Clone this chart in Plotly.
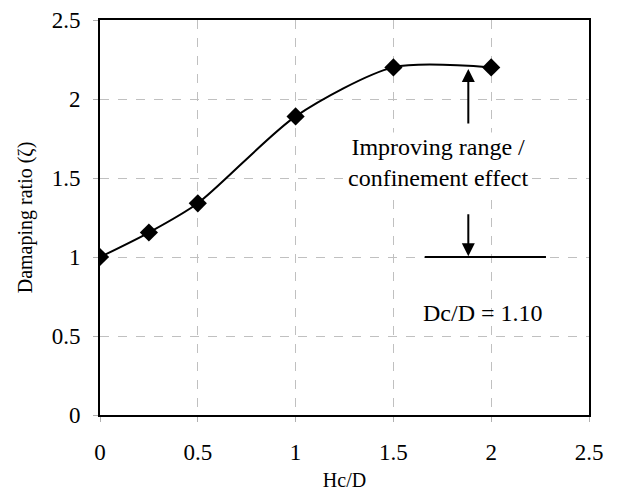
import plotly.graph_objects as go

hc_d = [0, 0.25, 0.5, 1.0, 1.5, 2.0]
damping = [1.0, 1.155, 1.34, 1.89, 2.2, 2.2]

x_ticks = [0, 0.5, 1, 1.5, 2, 2.5]
y_ticks = [0, 0.5, 1, 1.5, 2, 2.5]

FONT = "Liberation Serif"

fig = go.Figure()
fig.add_trace(go.Scatter(
    x=hc_d, y=damping, mode="lines+markers",
    line=dict(color="black", width=2, shape="spline", smoothing=0.75),
    marker=dict(symbol="diamond", size=14, color="black"),
    showlegend=False,
))

# reference line Dc/D
fig.add_shape(type="line", x0=1.66, x1=2.28, y0=1.0, y1=1.0,
              xref="x", yref="y", line=dict(color="black", width=2))

# up arrow
fig.add_annotation(x=1.883, y=2.19, ax=1.883, ay=1.835, xref="x", yref="y",
                   axref="x", ayref="y", showarrow=True, arrowhead=2,
                   arrowsize=1.3, arrowwidth=2, arrowcolor="black", text="")
# down arrow
fig.add_annotation(x=1.883, y=1.005, ax=1.883, ay=1.28, xref="x", yref="y",
                   axref="x", ayref="y", showarrow=True, arrowhead=2,
                   arrowsize=1.3, arrowwidth=2, arrowcolor="black", text="")

fig.add_annotation(x=1.73, y=1.6, xref="x", yref="y", showarrow=False,
                   text="Improving range /<br>confinement effect",
                   font=dict(family=FONT, size=24, color="black"),
                   align="center", bgcolor="white")
fig.add_annotation(x=1.96, y=0.645, xref="x", yref="y", showarrow=False,
                   text="Dc/D = 1.10",
                   font=dict(family=FONT, size=24, color="black"))

axis_common = dict(
    showline=True, linecolor="black", linewidth=2, mirror=True,
    showgrid=True, gridcolor="#c0c0c0", griddash="dash", gridwidth=1,
    ticks="outside", ticklen=5, tickcolor="#b0b0b0",
    tickfont=dict(family=FONT, size=23, color="black"),
    zeroline=False, automargin=False,
)

fig.update_xaxes(range=[0, 2.5], tickvals=x_ticks, ticktext=[str(v) for v in x_ticks],
                 ticklabelstandoff=10,
                 title=dict(text="Hc/D", font=dict(family=FONT, size=20, color="black"),
                            standoff=10),
                 **axis_common)
fig.update_yaxes(range=[0, 2.5], tickvals=y_ticks, ticktext=[str(v) for v in y_ticks],
                 ticklabelstandoff=8,
                 title=dict(text="Damaping ratio (ζ)", font=dict(family=FONT, size=20, color="black"),
                            standoff=14),
                 **axis_common)

fig.update_layout(
    width=617, height=491,
    margin=dict(l=100, r=28, t=20, b=76),
    plot_bgcolor="white", paper_bgcolor="white",
)

fig.write_html("out.html")
